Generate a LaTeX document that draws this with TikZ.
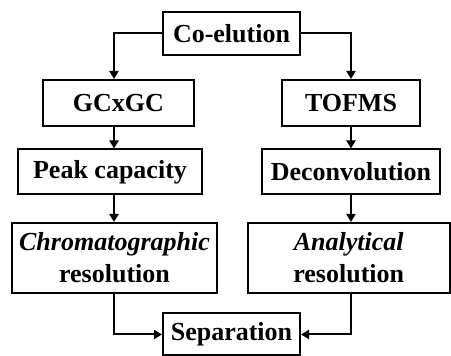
\documentclass[tikz,border=0pt]{standalone}
\usepackage{fontspec}
\setmainfont{Liberation Serif}
\usetikzlibrary{arrows.meta, positioning, calc}

\tikzset{
	blk/.style={draw, line width=1pt, inner sep=0pt, align=center,
		font=\fontsize{13}{16}\selectfont\bfseries},
	arr/.style={line width=1pt, -{Triangle[length=4pt, width=4.5pt]}}
}

\begin{document}
\begin{tikzpicture}[x=0.5pt, y=0.5pt]

			\useasboundingbox (0,0) rectangle (451,356);
			
			\coordinate (lcol) at (114,0);
			\coordinate (rcol) at (351,0);
			
			\node [blk, minimum width=68.5pt, minimum height=21.5pt] (coel) at (231.5,322.5) {Co-elution};
			\node [blk, minimum width=75.5pt, minimum height=23pt] (gc) at (118.5,253) {GCxGC};
			\node [blk, minimum width=69pt, minimum height=23pt] (tof) at (351,253) {TOFMS};
			\node [blk, minimum width=92pt, minimum height=22.5pt] (peak) at (110,184) {Peak capacity};
			\node [blk, minimum width=89pt, minimum height=22.5pt] (dec) at (351,184) {Deconvolution};
			\node [blk, minimum width=102.5pt, minimum height=35pt] (chr) at (114.5,98) {\textit{Chromatographic}\\resolution};
			\node [blk, minimum width=100.75pt, minimum height=35pt] (ana) at (348.75,98) {\textit{Analytical}\\resolution};
			\node [blk, minimum width=68.5pt, minimum height=21pt] (sep) at (231.5,21.5) {Separation};
			
			\draw [arr] (coel.west) -| (gc.north -| lcol);
			\draw [arr] (coel.east) -| (tof.north -| rcol);
			\draw [arr] (gc.south -| lcol) -- (peak.north -| lcol);
			\draw [arr] (tof.south -| rcol) -- (dec.north -| rcol);
			\draw [arr] (peak.south -| lcol) -- (chr.north -| lcol);
			\draw [arr] (dec.south -| rcol) -- (ana.north -| rcol);
			\draw [arr] (chr.south -| lcol) |- (sep.west);
			\draw [arr] (ana.south -| rcol) |- (sep.east);
			\end{tikzpicture}
\end{document}
